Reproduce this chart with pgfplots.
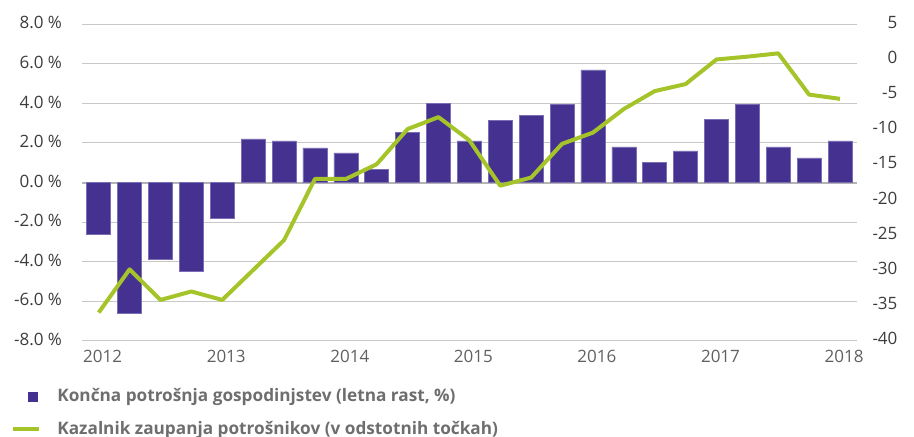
\documentclass[border=0pt]{standalone}
\usepackage{pgfplots}
\pgfplotsset{compat=1.18}
\usepackage{fontspec}
\setmainfont{Open Sans}
\definecolor{barcol}{HTML}{45318F}
\definecolor{baredge}{HTML}{7B6DB3}
\definecolor{linecol}{HTML}{A5C42A}
\definecolor{gridcol}{HTML}{C8C8C8}
\definecolor{zerocol}{HTML}{B4B4B4}
\definecolor{tickcol}{HTML}{3C3C3C}
\definecolor{yearcol}{HTML}{606060}
\definecolor{legcol}{HTML}{6E6E6E}
\begin{document}
\begin{tikzpicture}
\pgfplotsset{
  common/.style={
    scale only axis, width=387.5pt, height=158.2pt,
    xmin=-0.54, xmax=24.55,
    axis line style={draw=none}, tick style={draw=none},
    /pgf/number format/assume math mode=true,
    ticklabel style={font=\fontsize{8.5}{10}\selectfont, text=tickcol},
  }
}
\begin{axis}[common,
  ymin=-8, ymax=8,
  ytick={-8,-6,-4,-2,0,2,4,6,8},
  yticklabels={-8.0 \%,-6.0 \%,-4.0 \%,-2.0 \%,0.0 \%,2.0 \%,4.0 \%,6.0 \%,8.0 \%},
  yticklabel style={anchor=east, xshift=-6.5pt, yshift=0.7pt},
  ymajorgrids, grid style={line width=0.5pt, gridcol},
  xtick={0,4,8,12,16,20,24},
  xticklabels={2012,2013,2014,2015,2016,2017,2018},
  xticklabel style={yshift=-1pt, xshift=2pt, text=yearcol},
]
\draw[zerocol, line width=1pt] (axis cs:-0.54,0) -- (axis cs:24.55,0);
\addplot[ybar, bar width=12pt, fill=barcol, draw=baredge, line width=0.25pt] coordinates {
(0,-2.6) (1,-6.6) (2,-3.9) (3,-4.5) (4,-1.8) (5,2.2) (6,2.1) (7,1.75)
(8,1.5) (9,0.65) (10,2.55) (11,4.0) (12,2.1) (13,3.15) (14,3.4) (15,3.95)
(16,5.7) (17,1.8) (18,1.0) (19,1.6) (20,3.2) (21,3.95) (22,1.8) (23,1.25) (24,2.1)
};
\end{axis}
\begin{axis}[common,
  ymin=-40, ymax=5,
  axis y line*=right, hide x axis,
  ytick={-40,-35,-30,-25,-20,-15,-10,-5,0,5},
  yticklabel style={anchor=west, inner sep=0pt, text width=20pt, align=right, yshift=1pt},
  legend style={at={(axis description cs:-0.0916,-0.1472)}, anchor=north west,
    draw=none, fill=none, inner sep=0pt, row sep=7.2pt, column sep=8pt,
    nodes={inner sep=0pt, text height=7pt, text depth=2pt, anchor=west},
    font=\bfseries\fontsize{8.6}{10.5}\selectfont, text=legcol},
  legend cell align=left,
]
\addlegendimage{legend image code/.code={
  \path[draw=none] (0pt,0pt) -- (13pt,0pt);
  \fill[barcol, draw=none] (7.5pt,-2.5pt) rectangle (12.5pt,2.5pt);}}
\addlegendentry{Končna potrošnja gospodinjstev (letna rast, \%)}
\addplot[linecol, line width=2pt, line join=round,
  legend image code/.code={\draw[linecol, line width=2pt] (0pt,0pt) -- (13pt,0pt);}] coordinates {
(0,-36.0) (1,-29.85) (2,-34.2) (3,-33.0) (4,-34.2) (5,-29.95) (6,-25.7) (7,-17.0)
(8,-17.0) (9,-14.9) (10,-9.9) (11,-8.2) (12,-11.5) (13,-17.95) (14,-16.8) (15,-12.0)
(16,-10.4) (17,-7.05) (18,-4.5) (19,-3.5) (20,0.0) (21,0.4) (22,0.87) (23,-5.0) (24,-5.6)
};
\addlegendentry{Kazalnik zaupanja potrošnikov (v odstotnih točkah)}
\end{axis}
\pgfresetboundingbox
\path[use as bounding box] (-41pt,-47.65pt) rectangle (416pt,170.35pt);
\end{tikzpicture}
\end{document}
